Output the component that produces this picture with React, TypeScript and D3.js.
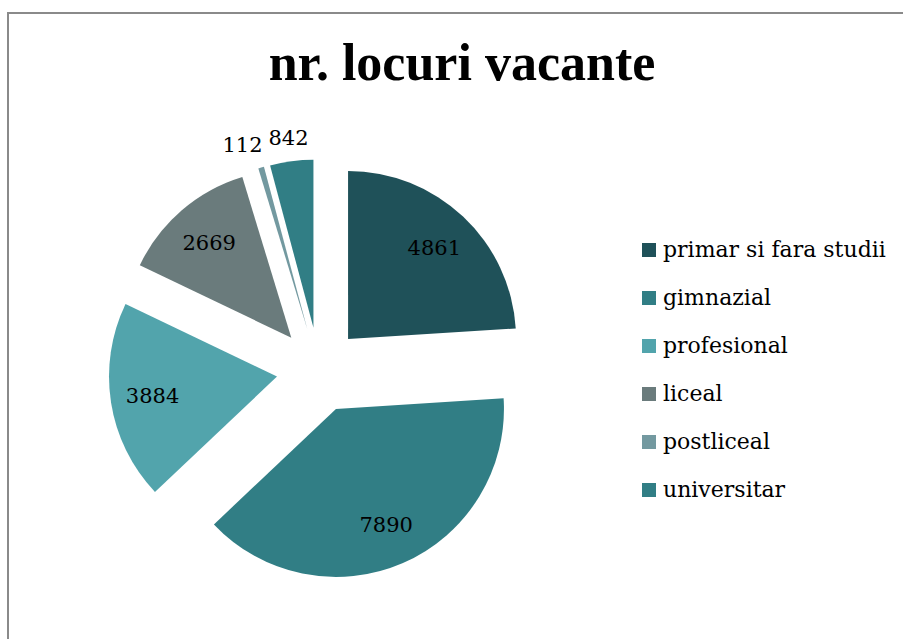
import React from "react";
import * as d3 from "d3";

const categories = ["primar si fara studii", "gimnazial", "profesional", "liceal", "postliceal", "universitar"];
const values = [4861, 7890, 3884, 2669, 112, 842];
const colors = ["#1F5159", "#317E85", "#52A4AC", "#6A7B7C", "#7399A0", "#317E85"];
const title = "nr. locuri vacante";

const W = 903;
const H = 639;
const cx = 319;
const cy = 370;
const R = 168;
const explode = 42.5;
const labelFont = 21;

export default function App() {
  const pie = d3.pie<number>().sort(null).value((d) => d)(values);
  const arc = d3.arc<d3.PieArcDatum<number>>().innerRadius(0).outerRadius(R);

  const slices = pie.map((p, i) => {
    const mid = (p.startAngle + p.endAngle) / 2;
    const ox = Math.sin(mid) * explode;
    const oy = -Math.cos(mid) * explode;
    const frac = (p.endAngle - p.startAngle) / (2 * Math.PI);
    const inside = frac > 0.08;
    const lr = inside ? R * 0.75 : R * 1.14;
    const lx = ox + Math.sin(mid) * lr;
    const ly = oy - Math.cos(mid) * lr;
    const w = String(values[i]).length * 0.636 * labelFont;
    return { p, i, ox, oy, lx, ly, w, inside };
  });

  // simple collision resolution for outside labels: push earlier ones left
  const outside = slices.filter((s) => !s.inside).sort((a, b) => b.lx - a.lx);
  for (let k = 1; k < outside.length; k++) {
    const right = outside[k - 1];
    const cur = outside[k];
    const maxRight = right.lx - right.w / 2 - 6;
    if (cur.lx + cur.w / 2 > maxRight) cur.lx = maxRight - cur.w / 2;
  }

  return (
    <svg
      width={W}
      height={H}
      style={{ position: "absolute", left: 0, top: 0, display: "block", background: "#fff" }}
    >
      <rect x={8} y={13} width={W + 20} height={H + 20} fill="#fff" stroke="#8a8a8a" strokeWidth={2} />
      <text
        x={462}
        y={80}
        textAnchor="middle"
        fontFamily="'Liberation Serif', serif"
        fontWeight="bold"
        fontSize={52}
        fill="#000"
      >
        {title}
      </text>
      <g transform={`translate(${cx},${cy})`}>
        {slices.map((s) => (
          <path
            key={s.i}
            d={arc(s.p) || ""}
            transform={`translate(${s.ox},${s.oy})`}
            fill={colors[s.i]}
          />
        ))}
        {slices.map((s) => (
          <text
            key={"l" + s.i}
            x={s.lx}
            y={s.ly}
            dy="0.35em"
            textAnchor="middle"
            fontFamily="'DejaVu Serif', serif"
            fontSize={labelFont}
            fill="#000"
          >
            {values[s.i]}
          </text>
        ))}
      </g>
      <g>
        {categories.map((c, i) => (
          <g key={c} transform={`translate(642,${250 + i * 48})`}>
            <rect x={0} y={-7} width={14} height={14} fill={colors[i]} />
            <text x={21} y={7} fontFamily="'DejaVu Serif', serif" fontSize={22} fill="#000">
              {c}
            </text>
          </g>
        ))}
      </g>
    </svg>
  );
}
